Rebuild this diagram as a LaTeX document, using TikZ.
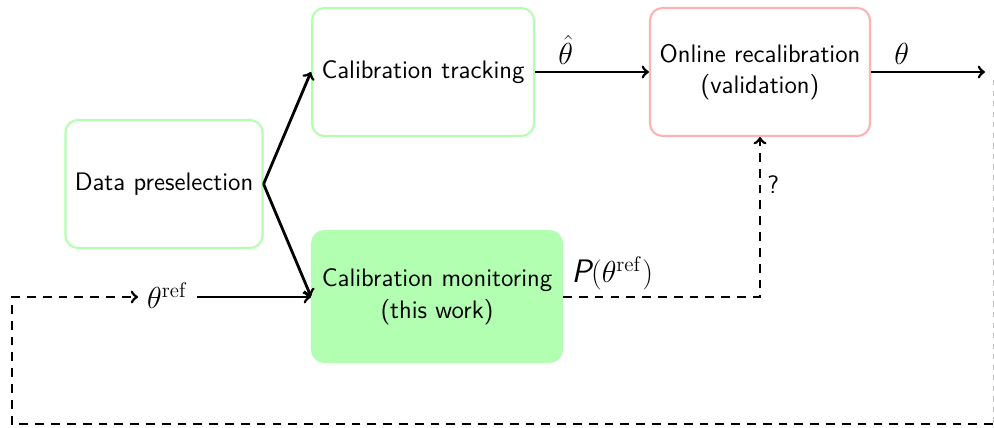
\documentclass[tikz,border=0pt]{standalone}
\usepackage{amsmath}
\usepackage{tikz}

\begin{document}
\begin{tikzpicture}[
	box/.style={draw, rounded corners=0.25cm, line width=1.2pt, align=center, font=\sffamily\Large, inner sep=0pt},
	lbl/.style={font=\fontsize{18.5}{21}\selectfont},
	flow/.style={->, line width=1.6pt},
	fb/.style={->, line width=1.6pt, dashed, dash pattern=on 5pt off 4pt}
	]
	\useasboundingbox (0,0) rectangle (19.88,8.54);
	
	\node[box, draw=green!30, minimum width=3.94cm, minimum height=2.56cm] (pre) at (3.28,4.86) {Data preselection};
	\node[box, draw=green!30, minimum width=4.44cm, minimum height=2.56cm] (track) at (8.46,7.10) {Calibration tracking};
	\node[box, draw=red!30, minimum width=4.40cm, minimum height=2.56cm] (recal) at (15.20,7.10) {Online recalibration\\(validation)};
	\node[box, draw=green!30, fill=green!30, minimum width=5.0cm, minimum height=2.62cm] (mon) at (8.74,2.61) {Calibration monitoring\\(this work)};
	
	\node[lbl, inner sep=5pt] (ref) at (3.35,2.62) {$\theta^{\mathrm{ref}}$};
	\coordinate (out) at (19.70,7.10);
	\coordinate (tr) at (19.86,6.94);
	\coordinate (br) at (19.86,0.06);
	\coordinate (bl) at (0.24,0.06);
	\coordinate (l) at (0.24,2.60);
	\coordinate (c) at (15.20,2.60);
	
	\draw[flow] (pre.east) to (track.west);
	\draw[flow] (pre.east) to (mon.west);
	\draw[flow] (ref.east |- l) to (mon.west |- l);
	\draw[flow] (track.east) to node[pos=0.27, above, lbl]{$\hat{\theta}$} (recal.west);
	\draw[flow] (recal.east) to node[pos=0.27, above, lbl]{$\theta$} (out);
	
	\draw[fb] (mon.east |- c) to node[pos=0.25, above, lbl]{{\sffamily\itshape P}$(\theta^{\mathrm{ref}})$} (c) to node[pos=0.7, right, font=\sffamily\Large]{?} (recal.south);
	\draw[gray!50, thin, dashed] (tr) to (br);
	\draw[fb] (br) to (bl) to (l) to (ref.west |- l);
	
\end{tikzpicture}
\end{document}
